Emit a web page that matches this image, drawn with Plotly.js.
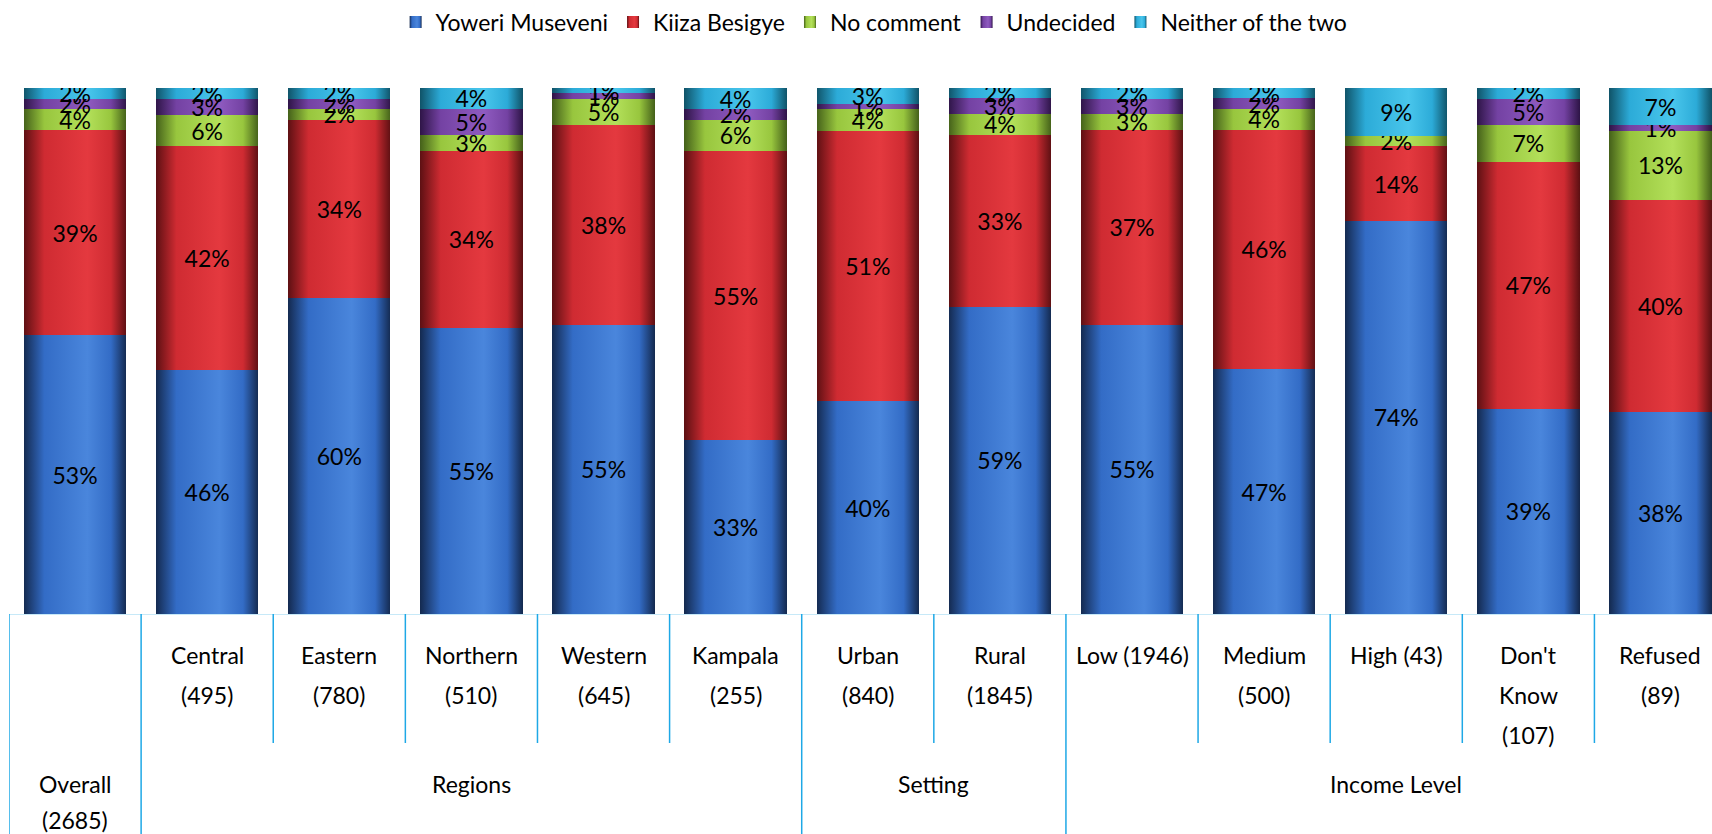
<!DOCTYPE html>
<html><head><meta charset="utf-8">
<script src="https://cdn.plot.ly/plotly-3.0.1.min.js"></script>
<style>html,body{margin:0;padding:0;background:#fff}#chart{width:1712px;height:834px}</style>
</head><body><div id="chart"></div>
<script>
const categories = ["Overall", "Central", "Eastern", "Northern", "Western", "Kampala", "Urban", "Rural", "Low", "Medium", "High", "Don't Know", "Refused"];
const tickLabels = [["Overall", "(2685)"], ["Central", "(495)"], ["Eastern", "(780)"], ["Northern", "(510)"], ["Western", "(645)"], ["Kampala", "(255)"], ["Urban", "(840)"], ["Rural", "(1845)"], ["Low (1946)"], ["Medium", "(500)"], ["High (43)"], ["Don't", "Know", "(107)"], ["Refused", "(89)"]];
const groupNames = ["Regions", "Setting", "Income Level"];
const groupStart = [1, 6, 8];
const groupEnd = [5, 7, 12];

const seriesNames = ["Yoweri Museveni", "Kiiza Besigye", "No comment", "Undecided", "Neither of the two"];
const museveni  = [53, 46, 60, 55, 55, 33, 40, 59, 55, 47, 74, 39, 38];
const besigye   = [39, 42, 34, 34, 38, 55, 51, 33, 37, 46, 14, 47, 40];
const noComment = [4, 6, 2, 3, 5, 6, 4, 4, 3, 4, 2, 7, 13];
const undecided = [2, 3, 2, 5, 1, 2, 1, 3, 3, 2, 0, 5, 1];
const neither   = [2, 2, 2, 4, 1, 4, 3, 2, 2, 2, 9, 2, 7];

const seriesValues = [museveni, besigye, noComment, undecided, neither];
const midColors  = ["#336cc6", "#cf2b32", "#98c63e", "#7442a3", "#2cabd8"];
const darkColors = ["#142a50", "#5e1013", "#45611a", "#2f1548", "#105469"];
const lightColors= ["#4a86dc", "#e4393f", "#b3e05a", "#8f5bc0", "#49c6ec"];

const FONT = "Lato, 'Open Sans', sans-serif";
const FS = 23;
const lineCol = "#1ea8e6";

const traces = seriesValues.map((vals, i) => ({
  type: "bar",
  name: seriesNames[i],
  x: categories,
  y: vals,
  text: vals.map(v => v > 0 ? v + "%" : ""),
  textposition: "inside",
  insidetextanchor: "middle",
  textangle: 0,
  constraintext: "none",
  textfont: {family: FONT, size: FS, color: "#000"},
  insidetextfont: {family: FONT, size: FS, color: "#000"},
  marker: {color: midColors[i], line: {width: 0}},
  hoverinfo: "skip"
}));

const plotTop = 88, plotBottom = 614, plotH = plotBottom - plotTop;
const py = p => (plotBottom - p) / plotH;

const shapes = [];
for (let k = 0; k < categories.length; k++) {
  const isGroupEdge = (k === 0) || groupStart.includes(k);
  shapes.push({type: "line", xref: "x", yref: "paper", x0: k - 0.5, x1: k - 0.5,
    y0: 0, y1: isGroupEdge ? py(834) : py(743), line: {color: lineCol, width: 1.5}});
}

const annotations = [];
tickLabels.forEach((lines, k) => {
  lines.forEach((t, j) => {
    const yPix = (k === 0) ? 784 + 36 * j : 655 + 40 * j;
    annotations.push({xref: "x", yref: "paper", x: categories[k], y: py(yPix), text: t,
      showarrow: false, xanchor: "center", yanchor: "middle", font: {family: FONT, size: FS, color: "#000"}});
  });
});
groupNames.forEach((g, i) => {
  annotations.push({xref: "x", yref: "paper", x: (groupStart[i] + groupEnd[i]) / 2, y: py(784), text: g,
    showarrow: false, xanchor: "center", yanchor: "middle", font: {family: FONT, size: FS, color: "#000"}});
});

const layout = {
  width: 1712, height: 834,
  margin: {l: 9, r: 0, t: plotTop, b: 834 - plotBottom, pad: 0},
  barmode: "stack",
  barnorm: "percent",
  bargap: 0.225,
  paper_bgcolor: "#fff",
  plot_bgcolor: "#fff",
  showlegend: true,
  legend: {orientation: "h", x: 0.508, xanchor: "center", y: py(22), yanchor: "middle",
    traceorder: "normal", font: {family: FONT, size: FS, color: "#000"}, itemwidth: 30, tracegroupgap: 0},
  xaxis: {type: "category", range: [-0.5, 12.39], showticklabels: false, ticks: "",
    showline: true, linecolor: "#c7e9f8", linewidth: 1, showgrid: false, zeroline: false, fixedrange: true},
  yaxis: {range: [0, 100], visible: false, showgrid: false, zeroline: false, fixedrange: true},
  shapes: shapes,
  annotations: annotations
};

Plotly.newPlot("chart", traces, layout, {staticPlot: true, displayModeBar: false}).then(gd => {
  const svgNS = "http://www.w3.org/2000/svg";
  const svg = gd.querySelector("svg.main-svg");
  let defs = svg.querySelector("defs");
  if (!defs) { defs = document.createElementNS(svgNS, "defs"); svg.insertBefore(defs, svg.firstChild); }
  midColors.forEach((c, i) => {
    const g = document.createElementNS(svgNS, "linearGradient");
    g.setAttribute("id", "cyl" + i);
    g.setAttribute("x1", "0"); g.setAttribute("y1", "0"); g.setAttribute("x2", "1"); g.setAttribute("y2", "0");
    [[0, darkColors[i]], [0.2, c], [0.62, lightColors[i]], [0.85, c], [1, darkColors[i]]].forEach(([o, col]) => {
      const s = document.createElementNS(svgNS, "stop");
      s.setAttribute("offset", o); s.setAttribute("stop-color", col);
      g.appendChild(s);
    });
    defs.appendChild(g);
  });
  gd.querySelectorAll("g.trace.bars").forEach((tr, i) => {
    tr.querySelectorAll("path").forEach(p => { p.style.fill = "url(#cyl" + i + ")"; });
  });
  gd.querySelectorAll(".legend .traces").forEach((tr, i) => {
    tr.querySelectorAll(".legendpoints path").forEach(p => { p.style.fill = "url(#cyl" + i + ")"; });
  });
});
</script></body></html>
